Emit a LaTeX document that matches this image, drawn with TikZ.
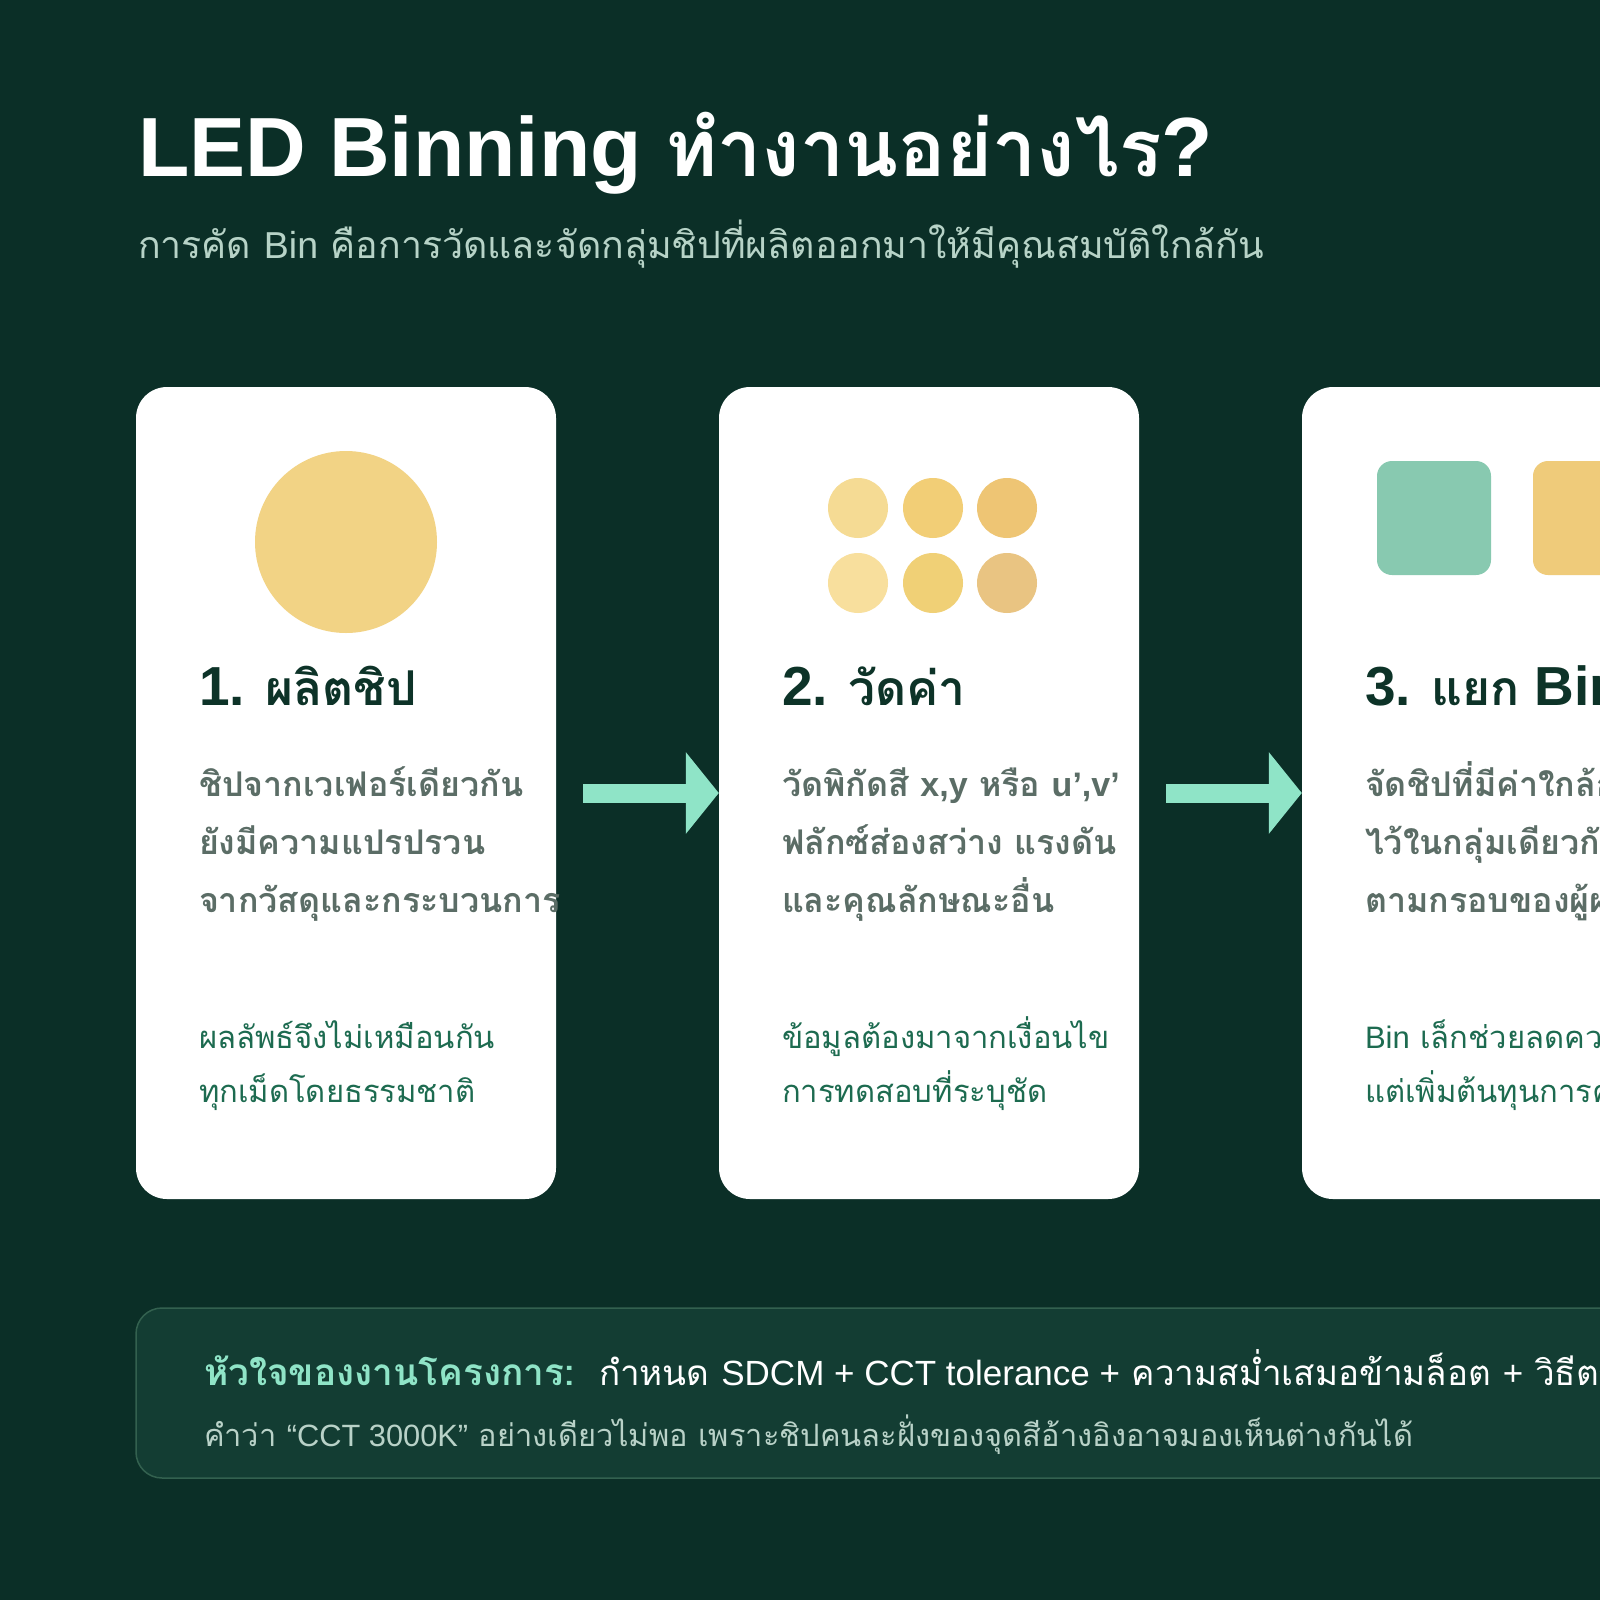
\documentclass[tikz,border=0pt]{standalone}
\usepackage{fontspec}
\setmainfont{Liberation Sans}
\newfontfamily\thai[Script=Thai]{Loma}
\usetikzlibrary{arrows.meta}
\definecolor{bg}{HTML}{0B2F27}
\definecolor{headc}{HTML}{0D3328}
\definecolor{bodyc}{HTML}{5B6D66}
\definecolor{notec}{HTML}{1D6B50}
\definecolor{mint}{HTML}{8FE4C7}
\definecolor{subc}{HTML}{B7D3C7}
\definecolor{chipc}{HTML}{F2D385}
\definecolor{boxfill}{HTML}{133D33}
\definecolor{boxline}{HTML}{33614F}
\definecolor{sqgreen}{HTML}{88C9B0}
\definecolor{sqyellow}{HTML}{EFCB7A}
\definecolor{lowc}{HTML}{B9D2C8}
\newcommand{\thaihead}[1]{{\fontsize{48}{56}\selectfont\thai\bfseries #1}}
\tikzset{
  card/.style={rectangle, rounded corners=31pt, fill=white, draw=none, minimum width=420pt, minimum height=812pt, inner sep=0pt},
  txt/.style={anchor=base west, inner sep=0pt, outer sep=0pt},
  headtxt/.style={txt, text=headc, font=\fontsize{55}{62}\selectfont\bfseries},
  bodytxt/.style={txt, text=bodyc, font=\fontsize{34}{40}\selectfont\thai\bfseries},
  notetxt/.style={txt, text=notec, font=\fontsize{31}{38}\selectfont\thai},
  flow/.style={line width=19pt, draw=mint, -{Triangle[length=33pt,width=80pt]}},
}
\begin{document}
\begin{tikzpicture}[x=1pt,y=-1pt]
\useasboundingbox (0,0) rectangle (1600,1600);
\clip (0,0) rectangle (1600,1600);
\fill[bg] (0,0) rectangle (1600,1600);

% title
\node[txt, text=white, font=\fontsize{84}{100}\selectfont\bfseries] (title) at (138,176) {LED Binning {\fontsize{79}{100}\selectfont\thai ทำงานอย่างไร}?};
\node[txt, text=subc, font=\fontsize{37.5}{46}\selectfont\thai] (sub) at (138,258) {การคัด {\rmfamily Bin} คือการวัดและจัดกลุ่มชิปที่ผลิตออกมาให้มีคุณสมบัติใกล้กัน};

% cards
\node[card] (c1) at (346,793) {};
\node[card] (c2) at (929,793) {};
\node[card] (c3) at (1512,793) {};

% arrows
\draw[flow] ([xshift=27pt]c1.east) -- (c2.west);
\draw[flow] ([xshift=27pt]c2.east) -- (c3.west);

% card 1 graphic
\fill[chipc] (346,542) circle (91pt);
% card 2 graphic
\fill[color={rgb,255:red,245;green,219;blue,148}] (858,508) circle (30pt);
\fill[color={rgb,255:red,242;green,206;blue,118}] (933,508) circle (30pt);
\fill[color={rgb,255:red,238;green,197;blue,116}] (1007,508) circle (30pt);
\fill[color={rgb,255:red,248;green,223;blue,157}] (858,583) circle (30pt);
\fill[color={rgb,255:red,240;green,208;blue,118}] (933,583) circle (30pt);
\fill[color={rgb,255:red,233;green,196;blue,130}] (1007,583) circle (30pt);
% card 3 graphic
\fill[sqgreen, rounded corners=15pt] (1377,461) rectangle (1491,575);
\fill[sqyellow, rounded corners=15pt] (1533,461) rectangle (1647,575);

% card 1 text
\node[headtxt] (h1) at (199,705) {1. \thaihead{ผลิตชิป}};
\node[bodytxt] (b11) at (199,796) {ชิปจากเวเฟอร์เดียวกัน};
\node[bodytxt] (b12) at (199,854) {ยังมีความแปรปรวน};
\node[bodytxt] (b13) at (199,912) {จากวัสดุและกระบวนการ};
\node[notetxt] (n11) at (199,1048) {ผลลัพธ์จึงไม่เหมือนกัน};
\node[notetxt] (n12) at (199,1102) {ทุกเม็ดโดยธรรมชาติ};

% card 2 text
\node[headtxt] (h2) at (782,705) {2. \thaihead{วัดค่า}};
\node[bodytxt] (b21) at (782,796) {วัดพิกัดสี {\rmfamily\bfseries x,y} หรือ {\rmfamily\bfseries u’,v’}};
\node[bodytxt] (b22) at (782,854) {ฟลักซ์ส่องสว่าง แรงดัน};
\node[bodytxt] (b23) at (782,912) {และคุณลักษณะอื่น};
\node[notetxt] (n21) at (782,1048) {ข้อมูลต้องมาจากเงื่อนไข};
\node[notetxt] (n22) at (782,1102) {การทดสอบที่ระบุชัด};

% card 3 text
\node[headtxt] (h3) at (1365,705) {3. \thaihead{แยก} Bin};
\node[bodytxt] (b31) at (1365,796) {จัดชิปที่มีค่าใกล้กัน};
\node[bodytxt] (b32) at (1365,854) {ไว้ในกลุ่มเดียวกัน};
\node[bodytxt] (b33) at (1365,912) {ตามกรอบของผู้ผลิต};
\node[notetxt] (n31) at (1365,1048) {{\rmfamily Bin} เล็กช่วยลดความต่าง};
\node[notetxt] (n32) at (1365,1102) {แต่เพิ่มต้นทุนการคัด};

% key box
\node[rectangle, rounded corners=26pt, fill=boxfill, draw=boxline, line width=1.5pt, minimum width=1564pt, minimum height=170pt, inner sep=0pt] (key) at (918,1393) {};
\node[txt, text=mint, font=\fontsize{37}{42}\selectfont\thai\bfseries] (k1) at (204,1385) {หัวใจของงานโครงการ:};
\node[txt, text=white, font=\fontsize{35}{40}\selectfont\thai] (k2) at (599,1385) {กำหนด {\rmfamily SDCM + CCT tolerance +} ความสม่ำเสมอข้ามล็อต {\rmfamily +} วิธีตรวจรับ};
\node[txt, text=lowc, font=\fontsize{30.8}{36}\selectfont\thai] (k3) at (204,1446) {คำว่า {\rmfamily “CCT 3000K”} อย่างเดียวไม่พอ เพราะชิปคนละฝั่งของจุดสีอ้างอิงอาจมองเห็นต่างกันได้};
\end{tikzpicture}
\end{document}
